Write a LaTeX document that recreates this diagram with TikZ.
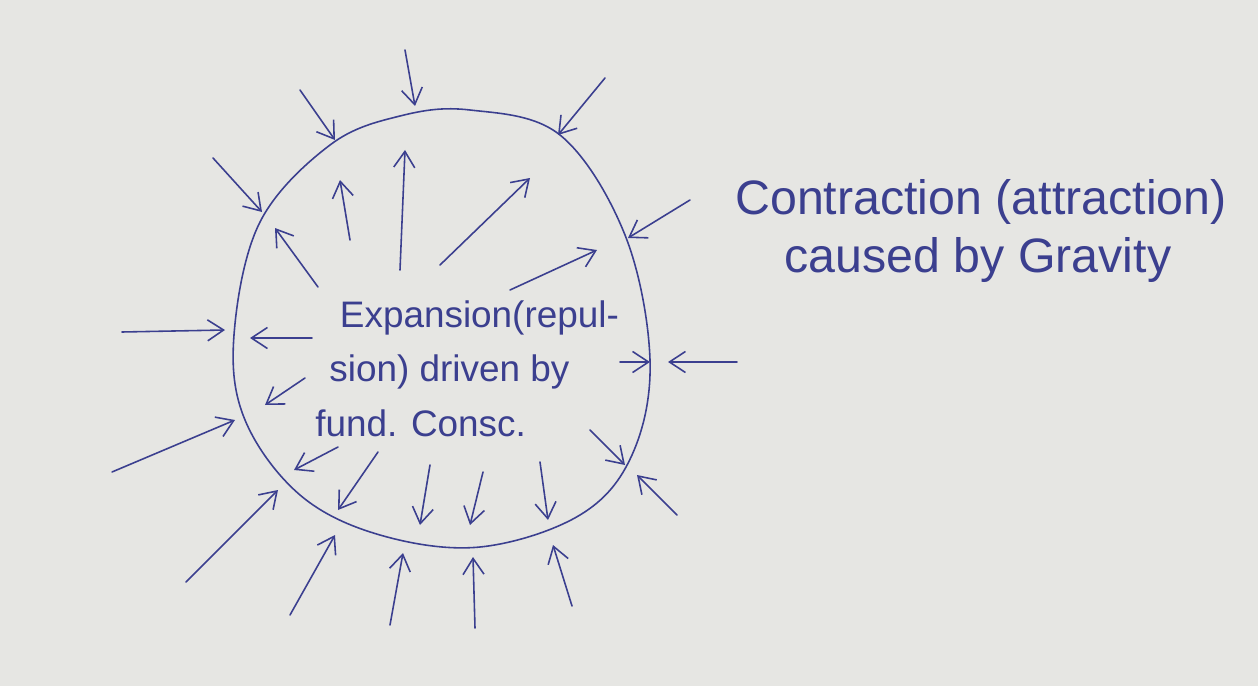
\documentclass[tikz,border=0pt]{standalone}
\usepackage{fontspec}
\setmainfont{Liberation Sans}
\usetikzlibrary{arrows.meta}
\definecolor{ink}{HTML}{3B3F8F}
\definecolor{paper}{HTML}{E6E6E3}

\begin{document}
\begin{tikzpicture}[
  x=0.02cm, y=-0.02cm,
  ink/.style={draw=ink, line width=0.9pt, line cap=round, line join=round},
  push/.style={ink, -{Straight Barb[length=3.2mm, width=4.2mm]}},
  note/.style={text=ink, align=left, inner sep=0pt},
]
% paper
\fill[paper] (0,0) rectangle (1258,686);
\useasboundingbox (0,0) rectangle (1258,686);
% the blob
\draw[ink] plot[smooth cycle, tension=0.6] coordinates {
  (470,110) (560,135) (625,235) (650,360) (632,455) (580,515) (480,547)
  (380,535) (300,495) (245,420) (234,335) (260,222) (330,145) (400,116)};
% contraction: arrows from outside towards the blob
\foreach \i/\xa/\ya/\xb/\yb in {1/405/50/415/106, 2/300/90/335/140,
    3/213/158/262/212, 4/605/78/558/135, 5/690/200/628/238,
    6/122/332/225/330, 7/737/362/668/362, 8/112/472/235/420,
    9/186/582/278/490, 10/290/615/335/535, 11/390/625/403/553,
    12/475/628/473/557, 13/572/606/553/545, 14/677/515/637/475} {
  \coordinate (out\i) at (\xa,\ya);
  \coordinate (rim\i) at (\xb,\yb);
  \draw[push] (out\i) -- (rim\i);
}
% expansion: arrows from inside towards the rim
\foreach \i/\xa/\ya/\xb/\yb in {1/400/270/405/150, 2/350/240/340/180,
    3/318/287/275/228, 4/440/265/530/178, 5/510/290/597/250,
    6/312/338/250/338, 7/620/362/650/362, 8/305/378/265/405,
    9/338/447/294/470, 10/378/452/338/510, 11/430/465/420/525,
    12/483/472/470/525, 13/540/462/548/520, 14/590/430/625/465} {
  \coordinate (core\i) at (\xa,\ya);
  \coordinate (tip\i) at (\xb,\yb);
  \draw[push] (core\i) -- (tip\i);
}
% labels (base = last line)
\node[note, anchor=base west, font=\fontsize{21}{31}\selectfont] (expnote) at (315,436)
  {\hspace*{14pt}Expansion(repul-\\\hspace*{8pt}sion) driven by\\fund. Consc.};
\node[note, anchor=base west, font=\fontsize{27.5}{33}\selectfont] (connote) at (735,272)
  {Contraction (attraction)\\\hspace*{28pt}caused by Gravity};
\end{tikzpicture}
\end{document}
